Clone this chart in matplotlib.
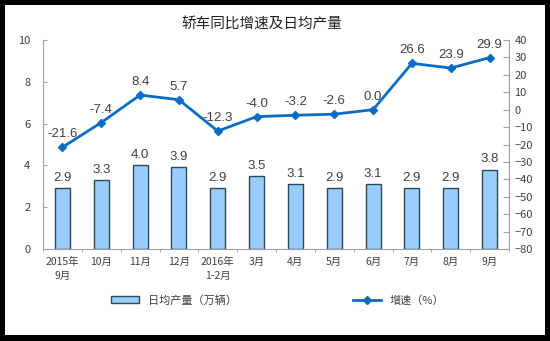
import numpy as np
import matplotlib.pyplot as plt
from matplotlib.patches import Rectangle
from matplotlib.ticker import FixedLocator

plt.rcParams['font.family'] = ['Noto Sans CJK SC', 'DejaVu Sans']

months = ['2015年\n9月', '10月', '11月', '12月', '2016年\n1-2月', '3月', '4月',
          '5月', '6月', '7月', '8月', '9月']
daily_output = [2.9, 3.3, 4.0, 3.9, 2.9, 3.5, 3.1, 2.9, 3.1, 2.9, 2.9, 3.8]
growth = [-21.6, -7.4, 8.4, 5.7, -12.3, -4.0, -3.2, -2.6, 0.0, 26.6, 23.9, 29.9]

bar_color = '#99CCFF'
line_color = '#0a6cc4'
axis_grey = '#a0a0a0'
text_grey = '#404040'

fig = plt.figure(figsize=(5.5, 3.41), dpi=100)
fig.patch.set_facecolor('black')
fig.patches.append(Rectangle((5 / 550, 6 / 341), 540 / 550, 330 / 341,
                             transform=fig.transFigure, facecolor='white',
                             edgecolor='none', zorder=-10))

ax = fig.add_axes([43 / 550, 1 - 249 / 341, 466 / 550, 209 / 341])
ax.set_facecolor('none')
x = np.arange(len(months))
bars = ax.bar(x, daily_output, width=0.39, color=bar_color, edgecolor='#2b4a55',
              linewidth=1.0, label='日均产量（万辆）', zorder=2)
for xi, v in zip(x, daily_output):
    ax.text(xi, v + 0.2, f'{v:.1f}', ha='center', va='bottom', fontsize=9.5,
            color=text_grey, family='Liberation Sans')

ax.set_xlim(-0.5, len(months) - 0.5)
ax.set_ylim(0, 10)
ax.set_yticks([0, 2, 4, 6, 8, 10])
ax.set_xticks(x)
ax.set_xticklabels(months, fontsize=7.5, color=text_grey, linespacing=1.5)
ax.xaxis.set_minor_locator(FixedLocator(np.arange(-0.5, len(months), 1)))
ax.tick_params(axis='x', which='major', length=0, pad=6)
ax.tick_params(axis='x', which='minor', length=2, color=axis_grey, direction='out')
ax.tick_params(axis='y', direction='in', length=3, color=axis_grey, labelsize=8,
               labelcolor=text_grey, pad=9)
for s in ['top', 'right']:
    ax.spines[s].set_visible(False)
for s in ['left', 'bottom']:
    ax.spines[s].set_color(axis_grey)

ax2 = ax.twinx()
ax2.plot(x, growth, color=line_color, lw=2, marker='D', markersize=4,
         label='增速（%）', zorder=3)
for xi, v in zip(x, growth):
    ax2.text(xi, v + 4, f'{v:.1f}', ha='center', va='bottom', fontsize=9.5,
             color=text_grey, family='Liberation Sans')
ax2.set_ylim(-80, 40)
ax2.set_yticks(np.arange(-80, 41, 10))
ax2.tick_params(axis='y', direction='in', length=4, color=axis_grey, labelsize=8,
                labelcolor=text_grey, pad=4)
for s in ['top', 'left', 'bottom']:
    ax2.spines[s].set_visible(False)
ax2.spines['right'].set_color(axis_grey)

fig.text(0.477, 1 - 25 / 341, '轿车同比增速及日均产量', ha='center', va='center',
         fontsize=10.5, color='#202020')

h1, l1 = ax.get_legend_handles_labels()
h2, l2 = ax2.get_legend_handles_labels()
fig.legend(h1 + h2, l1 + l2, loc='center', bbox_to_anchor=(0.505, 1 - 300 / 341),
           ncol=2, frameon=False, fontsize=8, columnspacing=10.5, handlelength=2.5,
           labelcolor=text_grey)

fig.savefig('out.png', dpi=100, facecolor=fig.get_facecolor())
